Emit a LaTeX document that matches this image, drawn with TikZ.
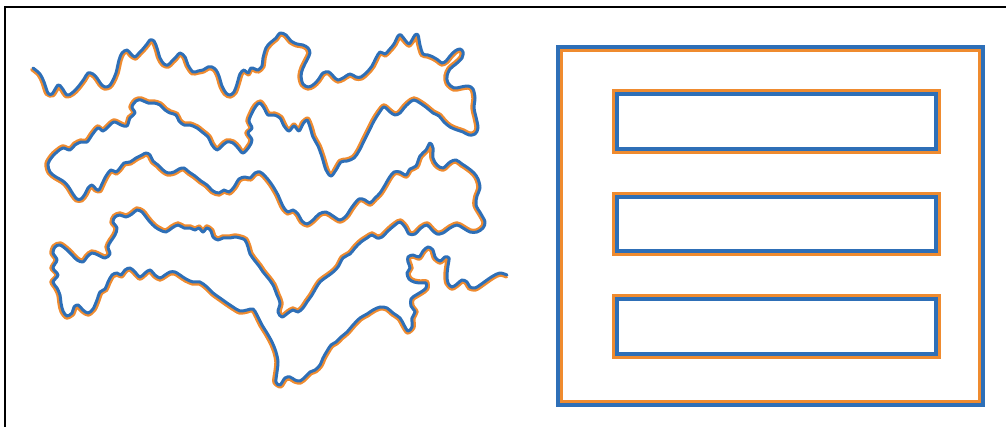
\documentclass[tikz,border=0pt]{standalone}
\usepackage{tikz}
\usepackage{xcolor}
\definecolor{cBlue}{HTML}{2E6FB7}
\definecolor{cOrange}{HTML}{EF8B2F}

% ── duong cong: cac diem theo pixel (x/y, y huong xuong) ──
\def\wigpts{33/68, 40/74, 44/82, 48/93, 52/94, 58/85, 62/88, 67/95, 72/93, 78/87, 84/79, 88/73, 93/74, 97/78, 101/84, 105/87, 109/86, 112/82, 116/73, 119/60, 122/53, 127/50, 131/54, 135/57, 139/53, 142/50, 147/44, 150/40, 154/41, 157/48, 160/58, 164/64, 168/65, 172/61, 176/57, 180/53, 185/57, 188/65, 193/72, 198/71, 203/70, 208/67, 212/67, 216/70, 219/76, 222/86, 226/93, 230/95, 234/92, 237/84, 240/74, 244/70, 248/73, 251/68, 255/69, 258/70, 262/66, 263/58, 266/48, 270/43, 276/38, 280/33, 286/35, 291/41, 297/44, 303/45, 308/48, 310/53, 307/60, 303/68, 301/76, 303/84, 308/87, 313/85, 318/80, 323/73, 329/72, 334/77, 338/80, 343/78, 350/74, 356/77, 361/77, 367/72, 372/66, 376/58, 380/52, 385/54, 389/50, 394/44, 398/36, 401/35, 405/40, 409/44, 412/40, 415/35, 418/35, 420/45, 423/54, 428/55, 433/57, 438/60, 442/63, 446/61, 450/56, 455/51, 460/49, 463/52, 462/58, 456/64, 450/69, 447/76, 448/83, 454/88, 461/87, 468/86, 473/89, 475/98, 474/108, 476/117, 478/128, 475/134, 469/135, 463/132,
457/130, 450/127, 444/122, 439/116, 433/113, 427/108, 420/103, 414/100, 409/103, 404/108, 400/113, 395/115, 390/112, 384/107, 379/113, 374/121, 369/131, 364/141, 359/151, 354/158, 347/161, 341/162, 336/170, 331/176, 326/170, 322/157, 318/146, 313/137, 310/127, 307/120, 303/124, 299/131, 294/126, 289/131, 284/126, 280/118, 274/115, 268/115, 264/108, 260/103, 256/106, 252/113, 249/121, 252/128, 248/133, 252/140, 249/147, 243/153, 238/148, 233/143, 227/142, 222/146, 217/150, 212/145, 208/137, 202/132, 197/128, 190/125, 184/125, 179/121, 176/115, 170/113, 165/110, 160/105, 154/103, 148/103, 141/100, 136/101, 132/107, 135/113, 130/118, 127/126, 121/125, 114/122, 108/127, 103/131, 98/128, 92/135, 87/142, 81/142, 75/145, 70/150, 63/148, 57/152, 52/157, 48/164, 50/172, 56/177, 63/181, 68/186,
73/194, 77/199, 81/199, 85/194, 88/188, 92/185, 96/189, 99/190, 102/184, 106/176, 111/170, 116/172, 120/168, 124/163, 130/162, 136/158, 142/155, 146/153, 150/155, 153/161, 158/165, 163/170, 168/173, 174/172, 179/169, 184/168, 189/172, 195/176, 201/181, 207/185, 213/191, 219/193, 224/190, 229/192, 234/187, 239/179, 245/177, 250/178, 255/173, 260/172, 265/176, 270/182, 274/188, 278/195, 281/202, 284/208, 288/212, 293/210, 298/214, 302/221, 307/224, 313/220, 319/214, 326/212, 333/216, 340/220, 346/216, 352/207, 359/199, 365/200, 370/203, 375/198, 380/193, 385/185, 389/178, 394/172, 400/172, 406/175, 410/169, 416/166, 420/156, 426/150, 430/143, 433/148, 433/158, 437/165, 443/168, 450/162, 456/160, 462/164, 468/168, 474/173, 478/179, 480/188, 477/196, 476/205, 481/214, 485/222, 483/228, 477/232,
470/232, 463/228, 457/225, 450/228, 443/233, 437/234, 432/230, 427/225, 421/228, 415/234, 409/234, 405/227, 400/222, 395/225, 388/231, 382/237, 377/238, 372/235, 367/238, 361/242, 355/248, 350/254, 343/258, 338/267, 332/273, 325/278, 320/282, 316/288, 312/295, 307/302, 303/308, 298/312, 293/310, 288/313, 282/317, 278/312, 280/303, 277/295, 273/285, 268/278, 263/272, 259/266, 255/261, 250/254, 248/247, 245/240, 240/238, 235/237, 230/238, 223/238, 218/240, 213/237, 211/231, 207/228, 203/232, 199/228, 195/230, 190/228, 184/228, 178/225, 172/228, 166/232, 160/230, 155/227, 150/222, 146/217, 142/212, 137/210, 132/214, 126/217, 120/215, 115/217, 113/222, 117/228, 115/235, 111/241, 108/247, 110/254, 105/258, 98/255, 92/253, 87/257, 83/262, 77/260, 72/255, 67/250, 60/245, 55/247, 53/253, 57/260, 53/268, 58/275, 53/282, 57/288, 60/295, 61/303, 63/311, 67/316,
72/313, 74/307, 78/305, 83/310, 88/313, 93/309, 97/300, 100/292, 105/289, 108/282, 112/275, 117/273, 121/275, 125/270, 130/268, 135/272, 140/277, 145/273, 150/270, 155/275, 160/278, 165/275, 170/272, 175/272, 180/275, 186/279, 193/282, 200/282, 207/287, 213/293, 220/298, 227/303, 233/307, 240/311, 247/310, 253/309, 257/315, 262/325, 267/333, 272/342, 276/352, 278/362, 277/372, 276/382, 280/385, 285/378, 290/377, 295/380, 300/381, 305/377, 310/372, 315/370, 320/365, 323/358, 327/351, 331/345, 336/342, 341/337, 347/332, 353/325, 360/318, 367/314, 373/310, 380/307, 387/308, 393/313, 400/318, 404/325, 408/331, 412/327, 412/318, 415/312, 411/306, 411/299, 416/295, 421/292, 426/288, 426/283, 420/283, 414/282, 409/279, 407/273, 410/268, 408/262, 408/257, 413/255, 419/257, 423/251, 428/247, 433/250, 435/257, 440/261, 445/257, 449/258, 448/266, 447/275, 448/283, 452/287, 457/284, 462/280, 467/282, 470/287, 475/288, 480/285, 487/280, 493/276, 500/273, 507/275}
\def\wigoff{2.1}

\begin{document}
\begin{tikzpicture}[
  x=1pt, y=-1pt,
  % ── hai mau: cam = mep phai, xanh = duong chinh ──
  bl/.style={draw=cBlue, line width=3pt, line join=round, line cap=round},
  orl/.style={draw=cOrange, line width=3.2pt, line join=round, line cap=round},
  blr/.style={draw=cBlue, line width=3.3pt},
  orr/.style={draw=cOrange, line width=3.3pt},
  frm/.style={draw=black, line width=2pt},
]
\useasboundingbox (0,0) rectangle (1006,427);

% ── khung ────────────────────────────────────────────────
\draw[frm] (5,427) -- (5,7) -- (1006,7);

% ── duong cong: tinh duong song song ben phai ──
\gdef\wigb{}\gdef\wigo{}
\foreach \px/\py [count=\i] in \wigpts {
  \xdef\wigb{\wigb (\px,\py)}
  \ifnum\i=1
    \xdef\ax{\px}\xdef\ay{\py}\xdef\bx{\px}\xdef\by{\py}
  \else
    \pgfmathsetmacro\dx{\px-\ax}\pgfmathsetmacro\dy{\py-\ay}
    \pgfmathsetmacro\wl{veclen(\dx,\dy)+0.001}
    \pgfmathsetmacro\ox{\bx-\wigoff*\dy/\wl}
    \pgfmathsetmacro\oy{\by+\wigoff*\dx/\wl}
    \xdef\wigo{\wigo (\ox,\oy)}
    \xdef\ax{\bx}\xdef\ay{\by}\xdef\bx{\px}\xdef\by{\py}
  \fi
}
\pgfmathsetmacro\dx{\bx-\ax}\pgfmathsetmacro\dy{\by-\ay}
\pgfmathsetmacro\wl{veclen(\dx,\dy)+0.001}
\pgfmathsetmacro\ox{\bx-\wigoff*\dy/\wl}
\pgfmathsetmacro\oy{\by+\wigoff*\dx/\wl}
\xdef\wigo{\wigo (\ox,\oy)}

\edef\tmp{\noexpand\draw[orl] plot[smooth, tension=0.55] coordinates {\wigo};}\tmp
\edef\tmp{\noexpand\draw[bl] plot[smooth, tension=0.55] coordinates {\wigb};}\tmp

% ── khung phai va ba thanh ──────────────────────────────
\draw[orr] (561,50) rectangle (980,402);
\draw[blr] (558,47) rectangle (983,405);
\foreach \ya/\yb in {91/152, 194/254, 296/357} {
  \draw[orr] (614,\ya) rectangle (939,\yb);
  \draw[blr] (617,\ya+3) rectangle (936,\yb-3);
}
\end{tikzpicture}
\end{document}
